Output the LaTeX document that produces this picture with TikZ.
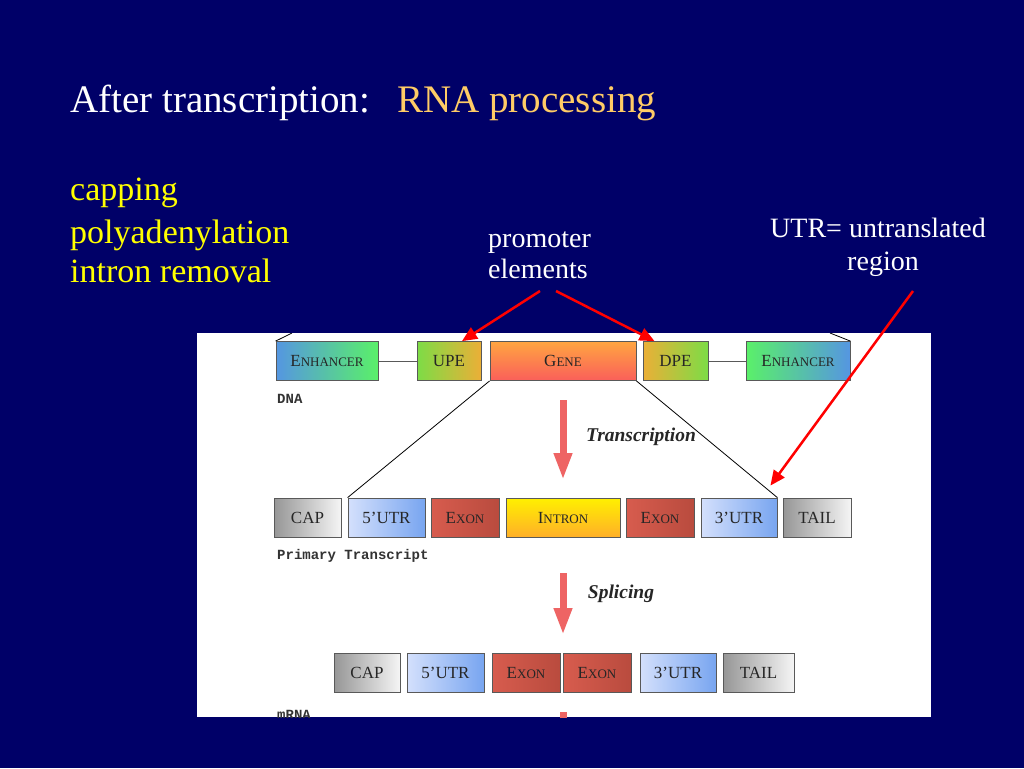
\documentclass[tikz,border=0pt]{standalone}
\usepackage{fontspec}
\setmainfont{Liberation Serif}
\setmonofont{Liberation Mono}
\usetikzlibrary{arrows.meta}

\definecolor{slidebg}{RGB}{0,0,104}
\definecolor{rnaorange}{RGB}{255,204,102}
\definecolor{listyellow}{RGB}{255,255,0}
\definecolor{enhblue}{RGB}{85,150,225}
\definecolor{enhgreen}{RGB}{90,240,105}
\definecolor{pegreen}{RGB}{125,220,70}
\definecolor{peorange}{RGB}{235,175,55}
\definecolor{genetop}{RGB}{255,165,65}
\definecolor{genebot}{RGB}{250,95,90}
\definecolor{capgray}{RGB}{150,150,150}
\definecolor{caplight}{RGB}{245,245,245}
\definecolor{utrlight}{RGB}{212,224,252}
\definecolor{utrblue}{RGB}{120,165,240}
\definecolor{exonA}{RGB}{215,92,78}
\definecolor{exonB}{RGB}{185,75,62}
\definecolor{introntop}{RGB}{255,240,0}
\definecolor{intronbot}{RGB}{255,175,40}
\definecolor{stepred}{RGB}{238,100,100}

% fake small caps
\newcommand{\fsc}[2]{#1{\fontsize{13}{14}\selectfont #2}}

\tikzset{
	box/.style={draw=black!65, line width=0.8pt, minimum height=39pt, inner sep=0pt,
		text=black!85, font=\fontsize{17}{18}\selectfont},
	enhL/.style={box, left color=enhblue, right color=enhgreen},
	enhR/.style={box, left color=enhgreen, right color=enhblue},
	peL/.style={box, left color=pegreen, right color=peorange},
	peR/.style={box, left color=peorange, right color=pegreen},
	genebox/.style={box, top color=genetop, bottom color=genebot},
	capbox/.style={box, left color=capgray, right color=caplight},
	utrbox/.style={box, left color=utrlight, right color=utrblue},
	exonbox/.style={box, left color=exonA, right color=exonB},
	intronbox/.style={box, top color=introntop, bottom color=intronbot},
	steparrow/.style={draw=stepred, line width=7pt, -{Triangle[width=17pt,length=27pt]}},
	notearrow/.style={draw=red, line width=2.5pt, -{Triangle[width=13pt,length=15pt]}},
	tag/.style={anchor=base west, inner sep=0pt, text=black!80, font=\fontsize{14}{15}\ttfamily\bfseries},
	steptext/.style={text=black!85, font=\fontsize{19.5}{20}\selectfont\bfseries\itshape}
}

\begin{document}
\begin{tikzpicture}[x=1pt,y=-1pt]
	\fill[slidebg] (0,0) rectangle (1024,768);
	\useasboundingbox (0,0) rectangle (1024,768);
	% titles
	\node[anchor=base west, inner sep=0pt, text=white, font=\fontsize{39}{44}\selectfont] (title) at (70,112) {After transcription:};
	\node[anchor=base west, inner sep=0pt, text=rnaorange, font=\fontsize{39}{44}\selectfont] (titleB) at (397,112) {RNA processing};
	% steps
	\node[anchor=base west, inner sep=0pt, text=listyellow, font=\fontsize{34}{40}\selectfont] (capping) at (70,200) {capping};
	\node[anchor=base west, inner sep=0pt, text=listyellow, font=\fontsize{34}{40}\selectfont] (polya) at (70,243) {polyadenylation};
	\node[anchor=base west, inner sep=0pt, text=listyellow, font=\fontsize{34}{40}\selectfont] (intronrm) at (70,282) {intron removal};
	% notes
	\node[anchor=base west, inner sep=0pt, text=white, font=\fontsize{28}{32}\selectfont] (promoter) at (488,247) {promoter};
	\node[anchor=base west, inner sep=0pt, text=white, font=\fontsize{28}{32}\selectfont] (elements) at (488,278) {elements};
	\node[anchor=base west, inner sep=0pt, text=white, font=\fontsize{28}{32}\selectfont] (utrnote) at (770,237) {UTR= untranslated};
	\node[anchor=base, inner sep=0pt, text=white, font=\fontsize{28}{32}\selectfont] (region) at (883,270) {region};

	% panel
	\fill[white] (197,333) rectangle (931,717);
	\begin{scope}
	\clip (197,333) rectangle (931,717);
	% DNA row
	\node[enhL, minimum width=102pt] (enhA) at (327,361) {\fsc{E}{NHANCER}};
	\node[peL, minimum width=64pt] (upe) at (449,361) {UPE};
	\node[genebox, minimum width=146pt] (gene) at (563,361) {\fsc{G}{ENE}};
	\node[peR, minimum width=65pt] (dpe) at (675.5,361) {DPE};
	\node[enhR, minimum width=104pt] (enhB) at (798,361) {\fsc{E}{NHANCER}};
	\draw[black!65, line width=1pt] (enhA.east) -- (upe.west);
	\draw[black!65, line width=1pt] (dpe.east) -- (enhB.west);
	\coordinate (stubA) at (292,333);
	\coordinate (stubB) at (830,333);
	\draw[line width=0.8pt] (enhA.north west) -- (stubA);
	\draw[line width=0.8pt] (enhB.north east) -- (stubB);
	\node[tag] (dna) at (277,403) {DNA};
	% primary transcript
	\node[capbox, minimum width=67pt] (cap) at (307.5,517.5) {CAP};
	\node[utrbox, minimum width=77pt] (utrA) at (386.5,517.5) {5'UTR};
	\node[exonbox, minimum width=68pt] (exA) at (465,517.5) {\fsc{E}{XON}};
	\node[intronbox, minimum width=114pt] (intron) at (563,517.5) {\fsc{I}{NTRON}};
	\node[exonbox, minimum width=68pt] (exB) at (660,517.5) {\fsc{E}{XON}};
	\node[utrbox, minimum width=76pt] (utrB) at (739,517.5) {3'UTR};
	\node[capbox, minimum width=68pt] (tail) at (817,517.5) {TAIL};
	\node[tag] (primary) at (277,559) {Primary Transcript};
	\draw[line width=0.8pt] (gene.south west) -- (utrA.north west);
	\draw[line width=0.8pt] (gene.south east) -- (utrB.north east);
	% mRNA
	\node[capbox, minimum width=66pt] (capM) at (367,673) {CAP};
	\node[utrbox, minimum width=77pt] (utrMA) at (445.5,673) {5'UTR};
	\node[exonbox, minimum width=68pt] (exMA) at (526,673) {\fsc{E}{XON}};
	\node[exonbox, minimum width=68pt] (exMB) at (597,673) {\fsc{E}{XON}};
	\node[utrbox, minimum width=76pt] (utrMB) at (678,673) {3'UTR};
	\node[capbox, minimum width=71pt] (tailM) at (758.5,673) {TAIL};
	\node[tag] (mrna) at (277,719) {mRNA};
	% steps
	\coordinate (trA) at (563,400);
	\coordinate (trB) at (563,480);
	\coordinate (spA) at (563,573);
	\coordinate (spB) at (563,635);
	\draw[steparrow] (trA) -- (trB);
	\draw[steparrow] (spA) -- (spB);
	\draw[draw=stepred, line width=7pt] (563,712) -- (563,720);
	\node[steptext] (transcr) at (641,437) {Transcription};
	\node[steptext] (splice) at (621,594) {Splicing};
	\end{scope}

	% red pointers
	\coordinate (promA) at (540,291);
	\coordinate (promB) at (556,291);
	\coordinate (utrtip) at (913,291);
	\draw[notearrow] (promA) -- ([xshift=13pt]upe.north);
	\draw[notearrow] (promB) -- ([xshift=-21pt]dpe.north);
	\draw[notearrow] (utrtip) -- ([xshift=-7pt,yshift=12pt]utrB.north east);
\end{tikzpicture}
\end{document}
